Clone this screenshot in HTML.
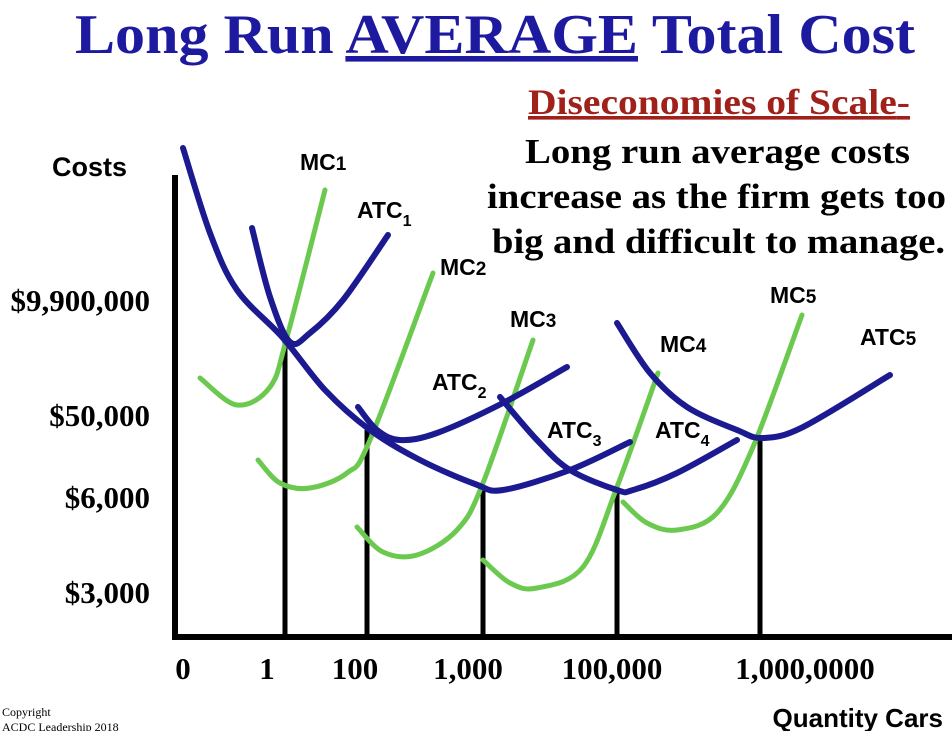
<!DOCTYPE html>
<html><head><meta charset="utf-8"><style>
body{margin:0;background:#fff;}
svg{display:block;}
.t{font-family:"Liberation Serif",serif;font-weight:bold;}
.s{font-family:"Liberation Sans",sans-serif;font-weight:bold;}
</style></head><body>
<svg id="c" width="952" height="731" viewBox="0 0 952 731">
<text class="t" x="75" y="53" font-size="56" fill="#1d1aa0" textLength="840" lengthAdjust="spacingAndGlyphs">Long Run <tspan text-decoration="underline">AVERAGE</tspan> Total Cost</text>
<text class="t" x="528" y="114" font-size="36" fill="#a0201a" textLength="382" lengthAdjust="spacingAndGlyphs" text-decoration="underline">Diseconomies of Scale<tspan text-decoration="none">-</tspan></text>
<g class="t" font-size="35" fill="#000">
<text x="525" y="163" textLength="385" lengthAdjust="spacingAndGlyphs">Long run average costs</text>
<text x="487" y="208" textLength="459" lengthAdjust="spacingAndGlyphs">increase as the firm gets too</text>
<text x="492" y="253" textLength="453" lengthAdjust="spacingAndGlyphs">big and difficult to manage.</text>
</g>
<text class="s" x="52" y="176" font-size="27">Costs</text>
<text class="s" x="943" y="727" font-size="26" text-anchor="end">Quantity Cars</text>
<text x="2" y="716" font-family="Liberation Serif,serif" font-size="12">Copyright</text>
<text x="2" y="731" font-family="Liberation Serif,serif" font-size="12">ACDC Leadership 2018</text>
<g id="ticks"></g>
<g id="curves"></g>
<g id="axes"></g>
<g id="labels" class="s" font-size="23" fill="#000"></g>
</svg>
<script>
// chart units: x = offset right of origin, y = height above baseline
const yTickLabels=["$9,900,000","$50,000","$6,000","$3,000"];
const yTickValues=[337,222,140,45];
const xTickLabels=["0","1","100","1,000","100,000","1,000,0000"];
const xTickValues=[8,92,180,293,437,630];
const dropX=[110,192,308,442,585];
const dropY=[299,207,147,147,197];
const atcBig=[[8,489],[35,404],[62,347],[108,299],[150,247],[195,207],[245,177],[300,153],[328,147],[395,167],[455,195]];
const atc1=[[77,409],[95,340],[115,295],[135,304],[168,337],[213,402]];
const atc2=[[183,230],[202,207],[225,197],[262,204],[328,234],[392,270]];
const atc3=[[325,240],[362,197],[395,167],[442,147],[458,147],[502,164],[562,197]];
const atc5=[[442,314],[475,264],[512,230],[562,207],[588,199],[628,210],[715,262]];
const mc1=[[25,259],[62,232],[95,250],[112,300],[150,447]];
const mc2=[[83,177],[105,154],[135,149],[172,164],[195,197],[258,364]];
const mc3=[[182,110],[208,85],[242,82],[282,107],[308,154],[358,297]];
const mc4=[[308,77],[335,54],[362,49],[408,70],[442,150],[483,264]];
const mc5=[[448,135],[472,114],[502,107],[542,124],[578,190],[627,322]];
const curveLabels=[["MC",  "1",125,467,false],["ATC","1",182,419,true],["MC","2",265,362,false],["MC","3",335,310,false],["ATC","2",257,247,true],["ATC","3",372,199,true],["MC","4",485,285,false],["ATC","4",480,199,true],["MC","5",595,334,false],["ATC","5",685,292,false]];
const X0=175,Y0=637;
const xs=v=>X0+v, ys=v=>Y0-v;
const NS="http://www.w3.org/2000/svg";
function mk(tag,parent){const e=document.createElementNS(NS,tag);document.getElementById(parent).appendChild(e);return e;}
function path(pts){const p=pts.map(q=>[xs(q[0]),ys(q[1])]);let d="M"+p[0][0]+","+p[0][1];
for(let i=0;i<p.length-1;i++){const a=p[i-1]||p[i],b=p[i],c=p[i+1],e=p[i+2]||c;
d+=" C"+(b[0]+(c[0]-a[0])/6)+","+(b[1]+(c[1]-a[1])/6)+" "+(c[0]-(e[0]-b[0])/6)+","+(c[1]-(e[1]-b[1])/6)+" "+c[0]+","+c[1];}return d;}
dropX.forEach((v,i)=>{const l=mk("line","ticks");


l.setAttribute("x1",xs(v));l.setAttribute("x2",xs(v));l.setAttribute("y1",ys(dropY[i]));l.setAttribute("y2",ys(0));l.setAttribute("stroke","#000");l.setAttribute("stroke-width","5");});
const greens=[mc1,mc2,mc3,mc4,mc5],blues=[atcBig,atc1,atc2,atc3,atc5];
greens.forEach(c=>{const p=mk("path","curves");


p.setAttribute("d",path(c));p.setAttribute("fill","none");p.setAttribute("stroke","#6cc94f");p.setAttribute("stroke-width","5");p.setAttribute("stroke-linecap","round");});
blues.forEach(c=>{const p=mk("path","curves");


p.setAttribute("d",path(c));p.setAttribute("fill","none");p.setAttribute("stroke","#1c1a90");p.setAttribute("stroke-width","6");p.setAttribute("stroke-linecap","round");});
const ya=mk("line","axes");


ya.setAttribute("x1",X0);ya.setAttribute("x2",X0);ya.setAttribute("y1",175);ya.setAttribute("y2",Y0+3);ya.setAttribute("stroke","#000");ya.setAttribute("stroke-width","6");
const xa=mk("line","axes");


xa.setAttribute("x1",X0-3);xa.setAttribute("x2",952);xa.setAttribute("y1",Y0);xa.setAttribute("y2",Y0);xa.setAttribute("stroke","#000");xa.setAttribute("stroke-width","6");
yTickLabels.forEach((s,i)=>{const t=mk("text","axes");


t.setAttribute("class","t");t.setAttribute("x",150);t.setAttribute("y",ys(yTickValues[i])+11);t.setAttribute("text-anchor","end");t.setAttribute("font-size","31");t.textContent=s;});
xTickLabels.forEach((s,i)=>{const t=mk("text","axes");


t.setAttribute("class","t");t.setAttribute("x",xs(xTickValues[i]));t.setAttribute("y",679);t.setAttribute("text-anchor","middle");t.setAttribute("font-size","31");t.textContent=s;});
curveLabels.forEach(c=>{const t=mk("text","labels");


t.setAttribute("x",xs(c[2]));t.setAttribute("y",ys(c[3]));t.textContent=c[0];
const sp=document.createElementNS(NS,"tspan");sp.textContent=c[1];
if(c[4]){sp.setAttribute("font-size","16");sp.setAttribute("dy","8");}else{sp.setAttribute("font-size","19");}
t.appendChild(sp);});
</script>
</body></html>
